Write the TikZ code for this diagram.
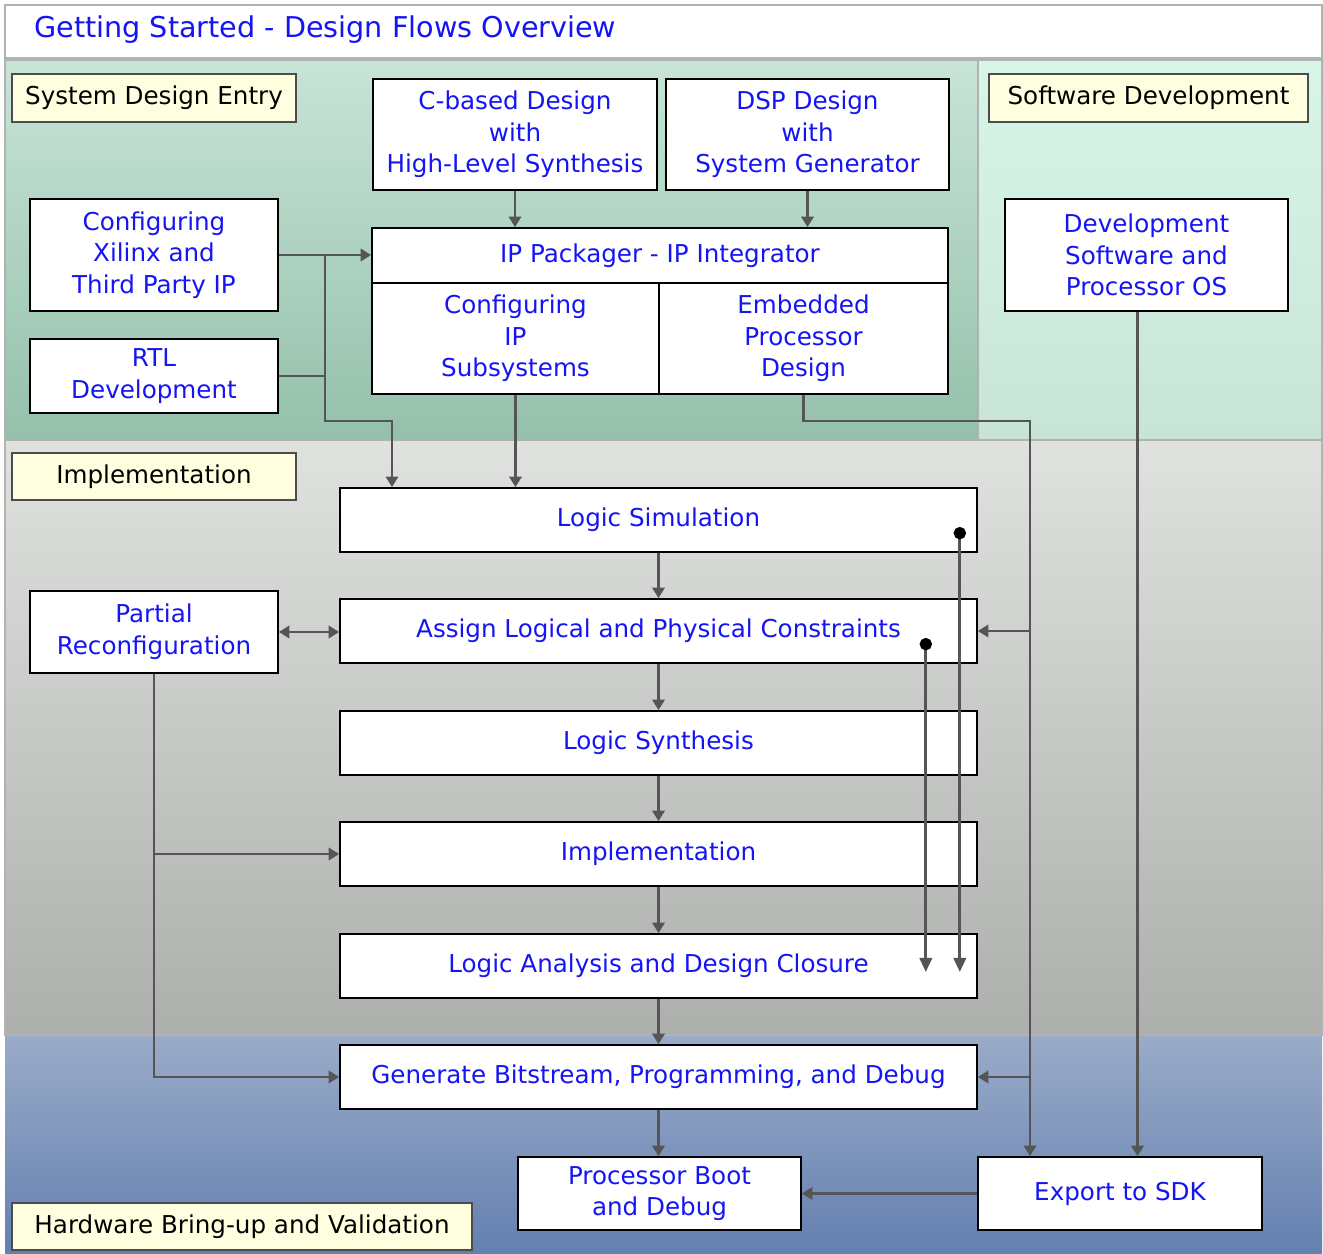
\documentclass[tikz,border=0pt]{standalone}
\usepackage{fontspec}
\setmainfont{DejaVu Sans}
\usetikzlibrary{arrows.meta,positioning,calc}
\definecolor{flowblue}{RGB}{20,20,245}
\definecolor{linegray}{RGB}{85,85,85}
\definecolor{notefill}{RGB}{255,255,224}
\definecolor{entrytop}{RGB}{200,228,215}
\definecolor{entrybot}{RGB}{148,192,171}
\definecolor{swtop}{RGB}{216,246,232}
\definecolor{swbot}{RGB}{200,228,214}
\definecolor{impltop}{RGB}{224,226,224}
\definecolor{implbot}{RGB}{173,175,173}
\definecolor{hwtop}{RGB}{154,171,200}
\definecolor{hwbot}{RGB}{100,128,176}

\begin{document}
\begin{tikzpicture}[x=0.02cm, y=-0.02cm,
    box/.style={rectangle, draw=black, fill=white, line width=1pt, inner sep=0pt, align=center, text=flowblue, font=\fontsize{14}{18}\selectfont},
    stagebox/.style={box, minimum width=12.74cm, minimum height=1.28cm},
    sidebox/.style={box, minimum width=4.96cm},
    notebox/.style={rectangle, draw=black!70, line width=1.5pt, fill=notefill, inner sep=0pt, font=\fontsize{14}{18}\selectfont},
    region/.style={draw=black!30, line width=1pt},
    line/.style={draw=linegray, line width=1.6pt},
    arrow/.style={line, -{Triangle[length=6pt,width=7pt]}},
    dotarrow/.style={line, {Circle[length=7pt,color=black]}-{Triangle[length=8pt,width=7pt]}}
]
\useasboundingbox (0,0) rectangle (1323,1254);

% background bands
\fill[white] (0,0) rectangle (1323,1254);
\draw[region, fill=white] (5,5) rectangle (1322,58);
\shade[top color=entrytop, bottom color=entrybot] (5,60) rectangle (978,440);
\shade[top color=swtop, bottom color=swbot] (978,60) rectangle (1322,440);
\shade[top color=impltop, bottom color=implbot] (5,440) rectangle (1322,1035);
\shade[top color=hwtop, bottom color=hwbot] (5,1035) rectangle (1322,1254);
\draw[region] (5,60) rectangle (978,440);
\draw[region] (978,60) rectangle (1322,440);
\draw[region] (5,440) rectangle (1322,1035);

\node[anchor=west, text=flowblue, font=\fontsize{16.3}{20}\selectfont] (title) at (28,30) {Getting Started - Design Flows Overview};

% section labels
\node[notebox, minimum width=5.68cm, minimum height=0.96cm] (lblentry) at (154,98) {System Design Entry};
\node[notebox, minimum width=6.38cm, minimum height=0.96cm] (lblsw) at (1148.5,98) {Software Development};
\node[notebox, minimum width=5.68cm, minimum height=0.94cm] (lblimpl) at (154,476.5) {Implementation};
\node[notebox, minimum width=9.2cm, minimum height=0.94cm] (lblhw) at (242,1226.5) {Hardware Bring-up and Validation};

% SYSTEM DESIGN ENTRY
\node[box, minimum width=5.68cm, minimum height=2.22cm] (cbased) at (515,134.5) {C-based Design\\with\\High-Level Synthesis};
\node[box, minimum width=5.66cm, minimum height=2.22cm] (dsp) at (807.5,134.5) {DSP Design\\with\\System Generator};
\node[box, minimum width=11.52cm, minimum height=1.1cm] (ippack) at (660,255.5) {IP Packager - IP Integrator};
\node[box, minimum width=5.74cm, minimum height=2.22cm] (cfgip) at (515.5,338.5) {Configuring\\IP\\Subsystems};
\node[box, minimum width=5.78cm, minimum height=2.22cm] (embproc) at (803.5,338.5) {Embedded\\Processor\\Design};
\node[sidebox, minimum height=2.24cm] (xilinx) at (154,255) {Configuring\\Xilinx and\\Third Party IP};
\node[sidebox, minimum height=1.48cm] (rtl) at (154,376) {RTL\\Development};

% SOFTWARE DEVELOPMENT
\node[box, minimum width=5.66cm, minimum height=2.24cm] (devsw) at (1146.5,255) {Development\\Software and\\Processor OS};

% IMPLEMENTATION
\node[stagebox] (logicsim) at (658.5,520) {Logic Simulation};
\node[stagebox] (assign) at (658.5,631) {Assign Logical and Physical Constraints};
\node[stagebox] (synth) at (658.5,743) {Logic Synthesis};
\node[stagebox] (impl) at (658.5,854) {Implementation};
\node[stagebox] (analysis) at (658.5,966) {Logic Analysis and Design Closure};
\node[sidebox, minimum height=1.64cm] (partial) at (154,632) {Partial\\Reconfiguration};

% HARDWARE BRING-UP
\node[stagebox] (bitstream) at (658.5,1077) {Generate Bitstream, Programming, and Debug};
\node[box, minimum width=5.66cm, minimum height=1.46cm] (procboot) at (659.5,1193.5) {Processor Boot\\and Debug};
\node[box, minimum width=5.68cm, minimum height=1.46cm] (export) at (1120,1193.5) {Export to SDK};

% entry arrows
\draw[arrow] (cbased.south) -- (cbased.south |- ippack.north);
\draw[arrow] (dsp.south) -- (dsp.south |- ippack.north);
\draw[arrow] (xilinx.east) -- (xilinx.east -| ippack.west);
\coordinate (joinL) at (325,255);
\coordinate (bendL) at (392,421);
\draw[line] (rtl.east) -- (rtl.east -| joinL);
\draw[arrow] (joinL) |- (bendL) -- (bendL |- logicsim.north);
\draw[arrow] (cfgip.south) -- (cfgip.south |- logicsim.north);

% embedded processor bus on the right
\coordinate (busE) at (1030,421);
\draw[arrow] (embproc.south) |- (busE) -- (busE |- export.north);
\draw[arrow] (busE |- assign.east) -- (assign.east);
\draw[arrow] (busE |- bitstream.east) -- (bitstream.east);
\draw[arrow] ([xshift=-0.18cm]devsw.south) -- ([xshift=-0.18cm]devsw.south |- export.north);

% main flow
\draw[arrow] (logicsim.south) -- (assign.north);
\draw[arrow] (assign.south) -- (synth.north);
\draw[arrow] (synth.south) -- (impl.north);
\draw[arrow] (impl.south) -- (analysis.north);
\draw[arrow] (analysis.south) -- (bitstream.north);
\draw[arrow] (bitstream.south) -- (bitstream.south |- procboot.north);
\draw[arrow] (export.west) -- (procboot.east);

% partial reconfiguration
\draw[line, {Triangle[length=6pt,width=7pt]}-{Triangle[length=6pt,width=7pt]}] (partial.east) -- (partial.east -| assign.west);
\draw[arrow] (partial.south) |- (bitstream.west);
\draw[arrow] (partial.south |- impl.west) -- (impl.west);

% dot connectors down to design closure
\coordinate (dotS) at ($(logicsim.east)+(-18,7)$);
\coordinate (dotA) at ($(assign.east)+(-52,7)$);
\draw[dotarrow] (dotS) -- ($(dotS |- analysis.center)+(0,6)$);
\draw[dotarrow] (dotA) -- ($(dotA |- analysis.center)+(0,6)$);

\end{tikzpicture}
\end{document}
